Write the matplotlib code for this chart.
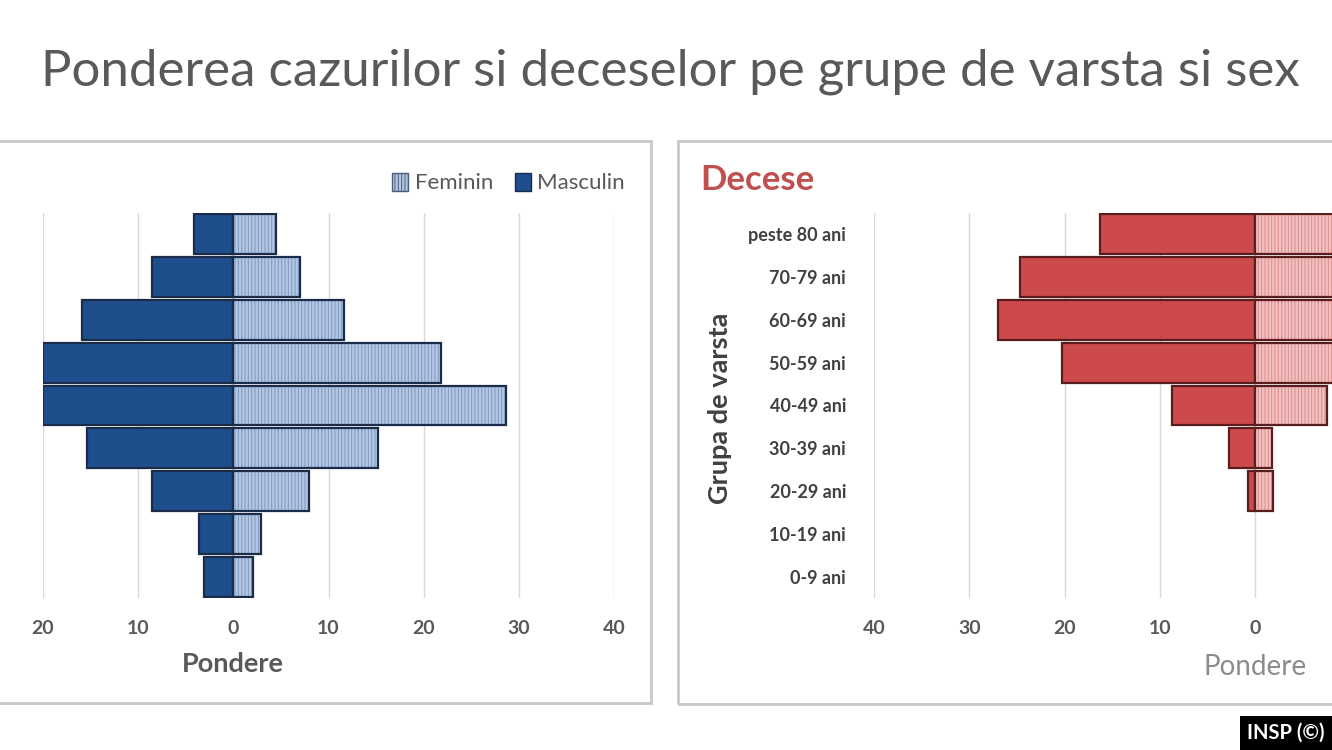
import numpy as np
import matplotlib
matplotlib.use('Agg')
import matplotlib.pyplot as plt
from matplotlib.patches import Patch, Rectangle

plt.rcParams['font.family'] = ['Lato', 'DejaVu Sans']
plt.rcParams['hatch.linewidth'] = 0.7

# grupele de varsta, de jos in sus
grupe = ['0-9 ani', '10-19 ani', '20-29 ani', '30-39 ani', '40-49 ani',
         '50-59 ani', '60-69 ani', '70-79 ani', 'peste 80 ani']
cazuri_masculin = [3.1, 3.6, 8.5, 15.4, 20.0, 20.0, 15.9, 8.5, 4.1]
cazuri_feminin = [2.1, 2.9, 7.9, 15.2, 28.7, 21.8, 11.6, 7.0, 4.5]
decese_masculin = [0.0, 0.0, 0.7, 2.7, 8.7, 20.3, 27.0, 24.7, 16.3]
decese_feminin = [0.0, 0.0, 1.9, 1.8, 7.6, 10.0, 16.0, 22.0, 27.0]

W, H = 1332, 750
fig = plt.figure(figsize=(W / 100, H / 100), dpi=100)
fig.patch.set_facecolor('white')

def fx(px):
    return px / W

def fy(py):
    return 1 - py / H

y = np.arange(len(grupe))
bh = 0.93
txt = '#595959'


def piramida(ax, masc, fem, c_masc, c_fem, c_hatch, c_edge):
    lw_m = [1.6 if v > 0 else 0 for v in masc]
    lw_f = [1.6 if v > 0 else 0 for v in fem]
    ax.barh(y, -np.array(masc), height=bh, color=c_masc, edgecolor=c_edge, linewidth=lw_m, zorder=3)
    ax.barh(y, fem, height=bh, color=c_fem, edgecolor=c_hatch, linewidth=0, hatch='|||||', zorder=3)
    ax.barh(y, fem, height=bh, fill=False, edgecolor=c_edge, linewidth=lw_f, zorder=4)
    ax.set_ylim(-0.5, len(grupe) - 0.5)
    for s in ax.spines.values():
        s.set_visible(False)
    ax.grid(axis='x', color='#d9d9d9', linewidth=1, zorder=0)
    ax.tick_params(length=0, pad=16, labelsize=14, labelcolor=txt)
    for lab in ax.get_xticklabels():
        lab.set_fontweight('bold')


# cazuri
ax1 = fig.add_axes([fx(43), fy(598), fx(614 - 43), (598 - 213) / H])
ax1.set_xlim(-20, 40)
ax1.set_xticks([-20, -10, 0, 10, 20, 30, 40])
ax1.set_xticklabels(['20', '10', '0', '10', '20', '30', '40'])
ax1.set_yticks([])
piramida(ax1, cazuri_masculin, cazuri_feminin, '#1f4e8c', '#b3c6e2', '#7d98c2', '#1b2c48')
ax1.text(0, -(664 - 598) / (598 - 213), 'Pondere', transform=ax1.get_xaxis_transform(),
         ha='center', va='center', fontsize=19.5, fontweight='bold', color=txt)

handles = [Patch(facecolor='#b3c6e2', edgecolor='#4a5d7a', hatch='|||||', label='Feminin'),
           Patch(facecolor='#1f4e8c', edgecolor='#1b2c48', label='Masculin')]
fig.legend(handles=handles, loc='center right', bbox_to_anchor=(fx(645), fy(183)),
           ncol=2, frameon=False, fontsize=16, handlelength=0.7, handleheight=0.9,
           handletextpad=0.3, columnspacing=1.0, labelcolor=txt)

# decese (partea dreapta a graficului iese din imagine)
ax2 = fig.add_axes([fx(874), fy(598), fx(9.525 * 80), (598 - 213) / H])
ax2.set_xlim(-40, 40)
ax2.set_xticks([-40, -30, -20, -10, 0])
ax2.set_xticklabels(['40', '30', '20', '10', '0'])
ax2.set_yticks(y)
ax2.set_yticklabels(grupe)
piramida(ax2, decese_masculin, decese_feminin, '#cc4a4b', '#f1c1c1', '#d98b8b', '#5a1d1d')
ax2.tick_params(axis='y', pad=20, labelsize=13, labelcolor='#404040')
for lab in ax2.get_yticklabels():
    lab.set_fontweight('bold')
ax2.text(0, -(667 - 598) / (598 - 213), 'Pondere', transform=ax2.get_xaxis_transform(),
         ha='center', va='center', fontsize=20, color='#8c8c8c')

fig.text(fx(720), fy(408), 'Grupa de varsta', rotation=90, ha='center', va='center',
         fontsize=19.5, fontweight='bold', color='#404040')
fig.text(fx(700), fy(180), 'Decese', ha='left', va='center', fontsize=25,
         fontweight='bold', color='#c0504d')

# titlu
fig.text(fx(670), fy(72), 'Ponderea cazurilor si deceselor pe grupe de varsta si sex',
         ha='center', va='center', fontsize=36.7, color='#595959')

# chenare
fig.patches.append(Rectangle((fx(-10), fy(703)), fx(661), (703 - 141) / H, transform=fig.transFigure,
                             fill=False, edgecolor='#c8c8c8', linewidth=2))
fig.patches.append(Rectangle((fx(678), fy(704)), fx(700), (704 - 141) / H, transform=fig.transFigure,
                             fill=False, edgecolor='#c8c8c8', linewidth=2))

# eticheta sursa
fig.patches.append(Rectangle((fx(1240), 0), fx(92), 34 / H, transform=fig.transFigure,
                             facecolor='black', edgecolor='none'))
fig.text(fx(1286), fy(733), 'INSP (©)', ha='center', va='center', fontsize=14.5,
         fontweight='bold', color='white')

fig.savefig('out.png', dpi=100)
